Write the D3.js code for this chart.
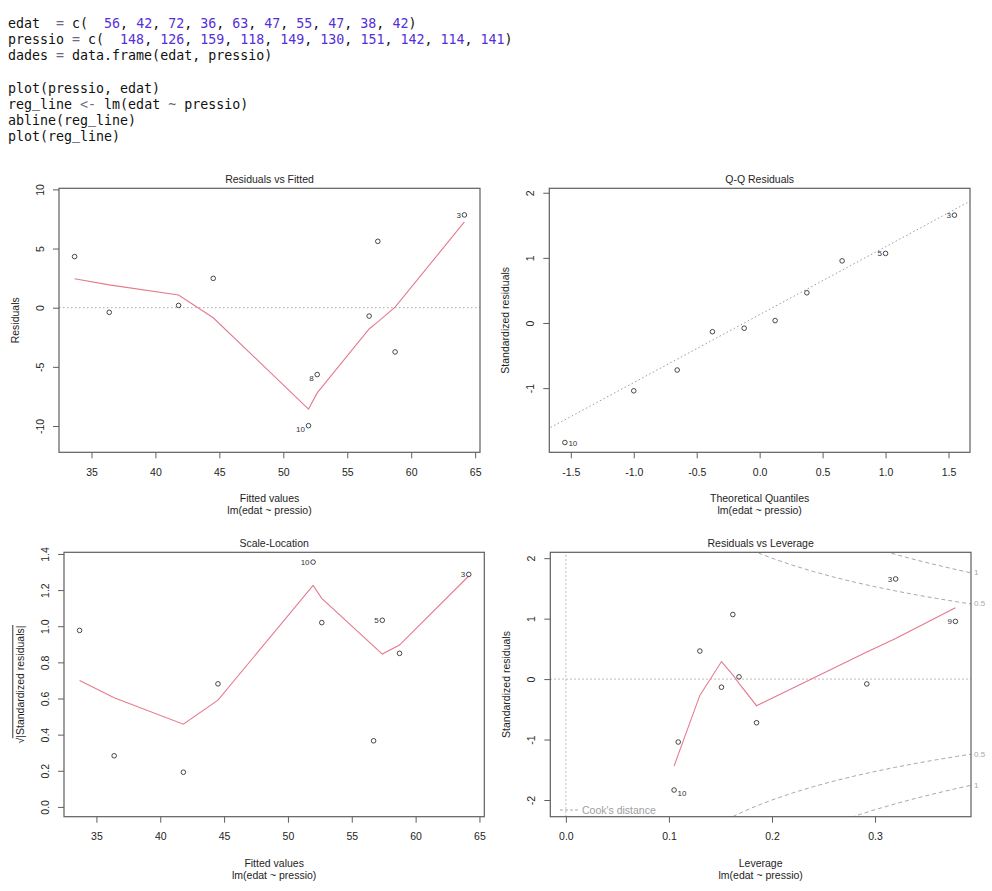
<!DOCTYPE html>
<html>
<head>
<meta charset="utf-8">
<script src="https://cdn.jsdelivr.net/npm/d3@7"></script>
<style>
  body { margin: 0; background: #fff; }
  svg { display: block; }
  text { font-family: "Liberation Sans", Arial, sans-serif; }
  .code { font-family: "DejaVu Sans Mono", monospace; font-size: 13.3px; white-space: pre; }
</style>
</head>
<body>
<svg id="chart" width="992" height="891"></svg>
<script>
// R console lines shown above the plots
const codeLines = [
  'edat  = c(  56, 42, 72, 36, 63, 47, 55, 47, 38, 42)',
  'pressio = c(  148, 126, 159, 118, 149, 130, 151, 142, 114, 141)',
  'dades = data.frame(edat, pressio)',
  '',
  'plot(pressio, edat)',
  'reg_line <- lm(edat ~ pressio)',
  'abline(reg_line)',
  'plot(reg_line)'
]

// lm(edat ~ pressio) diagnostics, observation 1..10
const obsId = [1, 2, 3, 4, 5, 6, 7, 8, 9, 10]
const fitted = [56.71, 41.81, 64.16, 36.39, 57.39, 44.52, 58.74, 52.65, 33.68, 51.97]
const resid = [-0.71, 0.19, 7.84, -0.39, 5.61, 2.48, -3.74, -5.65, 4.32, -9.97]
const stdResid = [-0.134, 0.037, 1.656, -0.080, 1.068, 0.464, -0.722, -1.041, 0.954, -1.835]
const sqrtAbsStd = [0.366, 0.192, 1.287, 0.283, 1.033, 0.681, 0.850, 1.020, 0.977, 1.355]
const leverage = [0.151, 0.168, 0.320, 0.292, 0.162, 0.130, 0.185, 0.109, 0.378, 0.105]

// Q-Q (sorted)
const qqTheo = [-1.547, -1.000, -0.655, -0.375, -0.123, 0.123, 0.375, 0.655, 1.000, 1.547]
const qqSample = [-1.835, -1.041, -0.722, -0.134, -0.080, 0.037, 0.464, 0.954, 1.068, 1.656]
const qqIds = [10, 8, 7, 1, 4, 2, 6, 9, 5, 3]
const qqLineX = [-1.8, 1.8]
const qqLineY = [-1.749, 2.005]

// red smoother lines
const rvfSmoothX = [33.68, 36.39, 41.81, 44.52, 51.97, 52.65, 56.71, 57.39, 58.74, 64.16]
const rvfSmoothY = [2.45, 1.93, 1.08, -0.85, -8.57, -7.20, -1.80, -1.20, 0.05, 7.25]
const slSmoothY = [0.700, 0.604, 0.458, 0.591, 1.226, 1.154, 0.890, 0.846, 0.896, 1.278]
const rvlSmoothX = [0.105, 0.109, 0.130, 0.151, 0.162, 0.168, 0.185, 0.292, 0.320, 0.378]
const rvlSmoothY = [-1.44, -1.25, -0.27, 0.29, 0.07, -0.07, -0.44, 0.45, 0.67, 1.18]

// Cook's distance contours (0.5 and 1)
const cookH = [0.15, 0.16, 0.17, 0.18, 0.19, 0.20, 0.22, 0.24, 0.26, 0.28, 0.30, 0.32, 0.34, 0.36, 0.38, 0.40]
const cook05 = [2.380, 2.291, 2.210, 2.134, 2.065, 2.000, 1.883, 1.780, 1.687, 1.604, 1.528, 1.458, 1.393, 1.333, 1.277, 1.225]
const cook1 = [3.367, 3.240, 3.125, 3.018, 2.920, 2.828, 2.663, 2.517, 2.386, 2.268, 2.160, 2.062, 1.970, 1.886, 1.806, 1.732]
const cookLevels = ['0.5', '1']
const cookEdge = [1.243, 1.758]

// labelled points
const rvfLabelIds = [10, 3, 8]
const qqLabelIds = [10, 3, 5]
const slLabelIds = [10, 3, 5]
const rvlLabelIds = [3, 9, 10]

// tick labels
const fitTicks = [35, 40, 45, 50, 55, 60, 65]
const fitTickLabels = ['35', '40', '45', '50', '55', '60', '65']
const residTicks = [-10, -5, 0, 5, 10]
const residTickLabels = ['-10', '-5', '0', '5', '10']
const qqXTicks = [-1.5, -1, -0.5, 0, 0.5, 1, 1.5]
const qqXTickLabels = ['-1.5', '-1.0', '-0.5', '0.0', '0.5', '1.0', '1.5']
const qqYTicks = [-1, 0, 1, 2]
const qqYTickLabels = ['-1', '0', '1', '2']
const slYTicks = [0, 0.2, 0.4, 0.6, 0.8, 1.0, 1.2, 1.4]
const slYTickLabels = ['0.0', '0.2', '0.4', '0.6', '0.8', '1.0', '1.2', '1.4']
const levTicks = [0, 0.1, 0.2, 0.3]
const levTickLabels = ['0.0', '0.1', '0.2', '0.3']
const rsTicks = [-2, -1, 0, 1, 2]
const rsTickLabels = ['-2', '-1', '0', '1', '2']

const svg = d3.select('#chart')
const red = '#e57a8d'
const ink = '#1e1e1e'
const frame = '#5e5e5e'
const grey = '#a8a8a8'

// console text
codeLines.forEach((line, i) => {
  const t = svg.append('text').attr('class', 'code')
    .attr('xml:space', 'preserve')
    .attr('x', 8).attr('y', 23 + i * 16.2)
    .attr('dominant-baseline', 'central')
  let raised = false
  line.split(/(\d+|<-|=|~|_)/).filter(s => s.length).forEach(tok => {
    let col = '#111'
    if (/^\d+$/.test(tok)) col = '#5630d6'
    else if (/^(<-|=|~)$/.test(tok)) col = '#6b6b7a'
    const ts = t.append('tspan').attr('fill', col).text(tok)
    // underscore sits on the baseline in the console font
    if (tok === '_') { ts.attr('dy', -2.5); raised = true }
    else if (raised) { ts.attr('dy', 2.5); raised = false }
  })
})

const extend = (ext, f) => {
  const d = ext[1] - ext[0]
  return [ext[0] - f * d, ext[1] + f * d]
}

const panel = cfg => {
  const [x0, y0, x1, y1] = cfg.box
  const x = d3.scaleLinear().domain(cfg.xd).range([x0, x1])
  const y = d3.scaleLinear().domain(cfg.yd).range([y1, y0])
  const g = svg.append('g')

  g.append('clipPath').attr('id', 'clip-' + cfg.id)
    .append('rect').attr('x', x0).attr('y', y0).attr('width', x1 - x0).attr('height', y1 - y0)
  const inner = g.append('g').attr('clip-path', `url(#clip-${cfg.id})`)

  const xAxis = g.append('g')
    .attr('transform', 'translate(0,' + y1 + ')')
    .call(d3.axisBottom(x).tickValues(cfg.xt).tickFormat((d, i) => cfg.xl[i]).tickSize(6))
  xAxis.select('.domain').remove()
  xAxis.selectAll('line').attr('stroke', frame)
  xAxis.selectAll('text')
    .attr('y', 19.4).attr('dy', null).attr('dominant-baseline', 'central')
    .attr('fill', ink).style('font-size', '10.5px').style('font-family', '"Liberation Sans", Arial, sans-serif')

  const yAxis = g.append('g')
    .attr('transform', 'translate(' + x0 + ',0)')
    .call(d3.axisLeft(y).tickValues(cfg.yt).tickFormat((d, i) => cfg.yl[i]).tickSize(6))
  yAxis.select('.domain').remove()
  yAxis.selectAll('line').attr('stroke', frame)
  yAxis.selectAll('text')
    .attr('x', null).attr('dy', null)
    .attr('transform', 'translate(-19,0) rotate(-90)')
    .attr('text-anchor', 'middle').attr('dominant-baseline', 'central')
    .attr('fill', ink).style('font-size', '10.5px').style('font-family', '"Liberation Sans", Arial, sans-serif')

  const cx = (x0 + x1) / 2
  g.append('text').attr('x', cx).attr('y', y0 - 9)
    .attr('text-anchor', 'middle').attr('dominant-baseline', 'central')
    .attr('fill', ink).style('font-size', '10.5px').text(cfg.title)
  g.append('text').attr('x', cx).attr('y', y1 + 46)
    .attr('text-anchor', 'middle').attr('dominant-baseline', 'central')
    .attr('fill', ink).style('font-size', '10.5px').text(cfg.xlab)
  g.append('text').attr('x', cx).attr('y', y1 + 58)
    .attr('text-anchor', 'middle').attr('dominant-baseline', 'central')
    .attr('fill', ink).style('font-size', '10.5px').text('lm(edat ~ pressio)')

  const yl = g.append('g').attr('transform', `translate(${x0 - 44},${(y0 + y1) / 2}) rotate(-90)`)
  const ylt = yl.append('text').attr('text-anchor', 'middle').attr('dominant-baseline', 'central')
    .attr('fill', ink).style('font-size', '10.5px').text(cfg.ylab)
  if (cfg.sqrtBar) {
    const L = ylt.node().getComputedTextLength()
    const sw = ylt.node().getSubStringLength(0, 1)
    yl.append('line').attr('x1', -L / 2 + sw - 0.5).attr('x2', L / 2 + 0.5)
      .attr('y1', -7.2).attr('y2', -7.2).attr('stroke', ink).attr('stroke-width', 0.9)
  }

  const box = () => g.append('rect').attr('x', x0).attr('y', y0)
    .attr('width', x1 - x0).attr('height', y1 - y0)
    .attr('fill', 'none').attr('stroke', frame).attr('stroke-width', 1.2)

  return { x, y, g, inner, box }
}

const drawPoints = (p, xs, ys) => {
  p.g.append('g').selectAll('circle')
    .data(xs.map((d, i) => [d, ys[i]]))
    .join('circle')
    .attr('cx', d => p.x(d[0])).attr('cy', d => p.y(d[1])).attr('r', 2.3)
    .attr('fill', 'none').attr('stroke', '#333').attr('stroke-width', 0.9)
}

// R nudges labels of negative values down by a third of a line
const drawLabels = (p, xs, ys, ids, which, nudgeNeg) => {
  const mid = d3.mean(p.x.domain())
  which.forEach(id => {
    const i = ids.indexOf(id)
    const right = xs[i] < mid
    const dy = nudgeNeg && ys[i] < 0 ? 3.5 : 0.5
    p.g.append('text')
      .attr('x', p.x(xs[i]) + (right ? 3.5 : -3.5)).attr('y', p.y(ys[i]) + dy)
      .attr('text-anchor', right ? 'start' : 'end').attr('dominant-baseline', 'central')
      .attr('fill', '#333').style('font-size', '8px').text(id)
  })
}

const drawLine = (p, xs, ys, color, dash, width) => {
  p.inner.append('path')
    .datum(xs.map((d, i) => [d, ys[i]]))
    .attr('d', d3.line().x(d => p.x(d[0])).y(d => p.y(d[1])))
    .attr('fill', 'none').attr('stroke', color).attr('stroke-width', width || 1)
    .attr('stroke-dasharray', dash || null)
}

const hline = (p, v) => {
  const [a, b] = p.x.domain()
  drawLine(p, [a, b], [v, v], grey, '1.5,2.5', 1)
}

// 1. Residuals vs Fitted
const p1 = panel({
  id: 'rvf', box: [59, 188.3, 480, 452.3],
  xd: extend(d3.extent(fitted), 0.04), yd: extend(extend(d3.extent(resid), 0.08), 0.04),
  xt: fitTicks, xl: fitTickLabels, yt: residTicks, yl: residTickLabels,
  title: 'Residuals vs Fitted', xlab: 'Fitted values', ylab: 'Residuals'
})
hline(p1, 0)
drawLine(p1, rvfSmoothX, rvfSmoothY, red, null, 1.1)
drawPoints(p1, fitted, resid)
drawLabels(p1, fitted, resid, obsId, rvfLabelIds, true)
p1.box()

// 2. Q-Q Residuals
const qqY = d3.extent(qqSample)
const p2 = panel({
  id: 'qq', box: [549.3, 188.3, 970, 452.3],
  xd: extend(d3.extent(qqTheo), 0.04), yd: extend([qqY[0], qqY[1] + (qqY[1] - qqY[0]) * 0.075], 0.04),
  xt: qqXTicks, xl: qqXTickLabels, yt: qqYTicks, yl: qqYTickLabels,
  title: 'Q-Q Residuals', xlab: 'Theoretical Quantiles', ylab: 'Standardized residuals'
})
drawLine(p2, qqLineX, qqLineY, '#9a9a9a', '1.5,2.5', 1)
drawPoints(p2, qqTheo, qqSample)
drawLabels(p2, qqTheo, qqSample, qqIds, qqLabelIds, false)
p2.box()

// 3. Scale-Location
const p3 = panel({
  id: 'sl', box: [64, 552.3, 484.3, 816.7],
  xd: extend(d3.extent(fitted), 0.04), yd: extend([0, d3.max(sqrtAbsStd)], 0.04),
  xt: fitTicks, xl: fitTickLabels, yt: slYTicks, yl: slYTickLabels,
  title: 'Scale-Location', xlab: 'Fitted values', ylab: '\u221A|Standardized residuals|', sqrtBar: true
})
drawLine(p3, rvfSmoothX, slSmoothY, red, null, 1.1)
drawPoints(p3, fitted, sqrtAbsStd)
drawLabels(p3, fitted, sqrtAbsStd, obsId, slLabelIds, false)
p3.box()

// 4. Residuals vs Leverage
const p4 = panel({
  id: 'rvl', box: [550.3, 552.3, 971, 816.7],
  xd: extend([0, d3.max(leverage)], 0.04), yd: extend(extend(d3.extent(stdResid), 0.08), 0.04),
  xt: levTicks, xl: levTickLabels, yt: rsTicks, yl: rsTickLabels,
  title: 'Residuals vs Leverage', xlab: 'Leverage', ylab: 'Standardized residuals'
})
hline(p4, 0)
drawLine(p4, [0, 0], p4.y.domain(), grey, '1.5,2.5', 1)
;[cook05, cook1].forEach(c => {
  drawLine(p4, cookH, c, grey, '4,3', 1)
  drawLine(p4, cookH, c.map(v => -v), grey, '4,3', 1)
})
drawLine(p4, rvlSmoothX, rvlSmoothY, red, null, 1.1)
drawPoints(p4, leverage, stdResid)
drawLabels(p4, leverage, stdResid, obsId, rvlLabelIds, true)
cookLevels.forEach((lab, i) => {
  ;[1, -1].forEach(s => {
    p4.g.append('text').attr('x', p4.x.range()[1] + 3).attr('y', p4.y(s * cookEdge[i]))
      .attr('dominant-baseline', 'central').attr('fill', grey)
      .style('font-size', '8px').text(lab)
  })
})
// legend
const lgY = 810
p4.g.append('line').attr('x1', 560).attr('x2', 580).attr('y1', lgY).attr('y2', lgY)
  .attr('stroke', grey).attr('stroke-dasharray', '3,2')
p4.g.append('text').attr('x', 582).attr('y', lgY).attr('dominant-baseline', 'central')
  .attr('fill', '#a0a0a0').style('font-size', '10.5px').text("Cook's distance")
p4.box()
</script>
</body>
</html>
